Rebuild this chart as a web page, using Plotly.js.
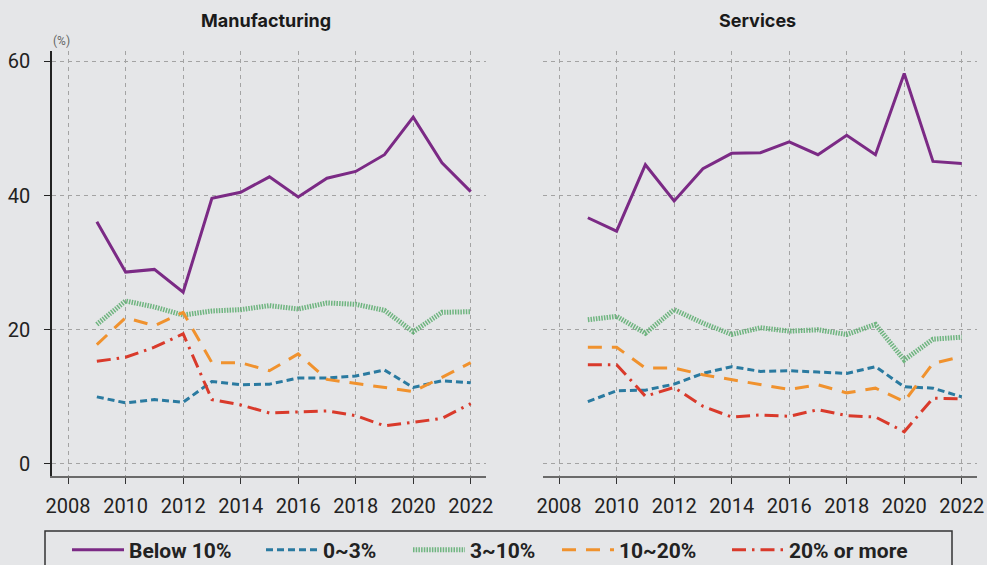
<!DOCTYPE html>
<html>
<head>
<meta charset="utf-8">
<script src="https://cdn.plot.ly/plotly-3.0.1.min.js"></script>
<style>
html,body{margin:0;padding:0;background:#e5e6e8;}
#chart{width:987px;height:565px;}
</style>
</head>
<body>
<div id="chart"></div>
<script>
// ---- data ----
const years = [2009, 2010, 2011, 2012, 2013, 2014, 2015, 2016, 2017, 2018, 2019, 2020, 2021, 2022];
const seriesNames = ["Below 10%", "0~3%", "3~10%", "10~20%", "20% or more"];
const panelTitles = ["Manufacturing", "Services"];
const xTickVals = [2008, 2010, 2012, 2014, 2016, 2018, 2020, 2022];
const yTickVals = [0, 20, 40, 60];

const mfgBelow10 = [36.1, 28.6, 29.0, 25.6, 39.6, 40.5, 42.8, 39.8, 42.6, 43.6, 46.1, 51.7, 44.9, 40.6];
const mfg0to3    = [10.0, 9.1, 9.6, 9.2, 12.3, 11.8, 11.9, 12.8, 12.8, 13.1, 14.0, 11.4, 12.4, 12.1];
const mfg3to10   = [20.8, 24.3, 23.4, 22.2, 22.8, 23.0, 23.6, 23.1, 24.0, 23.8, 22.9, 19.7, 22.6, 22.7];
const mfg10to20  = [17.8, 21.8, 20.6, 22.6, 15.1, 15.1, 13.9, 16.4, 12.6, 12.0, 11.4, 10.8, 12.9, 15.1];
const mfg20plus  = [15.3, 15.9, 17.4, 19.4, 9.6, 8.8, 7.6, 7.7, 7.9, 7.2, 5.7, 6.2, 6.8, 9.0];

const svcBelow10 = [36.7, 34.7, 44.6, 39.2, 44.0, 46.3, 46.4, 48.0, 46.1, 49.0, 46.1, 58.2, 45.1, 44.8];
const svc0to3    = [9.3, 10.9, 11.0, 11.9, 13.5, 14.5, 13.8, 13.9, 13.7, 13.5, 14.5, 11.5, 11.3, 10.0];
const svc3to10   = [21.5, 22.0, 19.5, 23.0, 21.0, 19.3, 20.3, 19.8, 20.0, 19.3, 20.8, 15.5, 18.6, 18.9];
const svc10to20  = [17.4, 17.4, 14.3, 14.3, 13.3, 12.6, 11.8, 11.1, 11.8, 10.6, 11.3, 9.3, 15.0, 16.0];
const svc20plus  = [14.8, 14.8, 10.1, 11.4, 8.6, 7.0, 7.3, 7.1, 8.1, 7.2, 7.0, 4.8, 9.8, 9.7];

// ---- styles ----
const W = 987, H = 565;
const styles = [
  {color: "#7b2a85", width: 3, dash: "solid"},
  {color: "#2a7aa0", width: 3, dash: "7px,4px"},
  {color: "#5bab6d", width: 5, dash: "1.5px,1.2px"},
  {color: "#f0922e", width: 3, dash: "14px,10px"},
  {color: "#d93a2b", width: 3, dash: "14px,6px,2.5px,6px"}
];
const legendLineStart = [75, 269, 416, 565, 735];
const legendIds = ["legend", "legend2", "legend3", "legend4", "legend5"];

const mfg = [mfgBelow10, mfg0to3, mfg3to10, mfg10to20, mfg20plus];
const svc = [svcBelow10, svc0to3, svc3to10, svc10to20, svc20plus];

const traces = [];
mfg.forEach((vals, i) => {
  traces.push({
    x: years, y: vals, type: "scatter", mode: "lines", name: seriesNames[i],
    xaxis: "x", yaxis: "y", line: styles[i], legend: legendIds[i], showlegend: true,
    opacity: i === 2 ? 0.85 : 1
  });
});
svc.forEach((vals, i) => {
  traces.push({
    x: years, y: vals, type: "scatter", mode: "lines", name: seriesNames[i],
    xaxis: "x2", yaxis: "y2", line: styles[i], showlegend: false,
    opacity: i === 2 ? 0.85 : 1
  });
});

const FONT = "Roboto, 'Noto Sans', sans-serif";
const TFONT = "Inter, Roboto, sans-serif";
const px2x = p => p / W;
const px2y = p => 1 - p / H;

const xBase = {
  range: [2007.43, 2022.52], tickvals: xTickVals, ticktext: xTickVals.map(String),
  showgrid: true, gridcolor: "#a3a3a3", griddash: "4px,4px", gridwidth: 1,
  showline: true, linecolor: "#6a6a6a", linewidth: 2,
  ticks: "outside", ticklen: 6, tickcolor: "#333", tickwidth: 1,
  tickfont: {family: FONT, size: 20, color: "#222"},
  ticklabelstandoff: 5, zeroline: false, fixedrange: true
};
const yBase = {
  range: [-1.75, 61.6], tickvals: yTickVals,
  showgrid: true, gridcolor: "#a3a3a3", griddash: "4px,4px", gridwidth: 1,
  zeroline: false, fixedrange: true,
  tickfont: {family: FONT, size: 20, color: "#222"}
};

const legendCommon = {
  orientation: "h", yanchor: "middle", xanchor: "left",
  xref: "container", yref: "container",
  bgcolor: "rgba(0,0,0,0)", borderwidth: 0,
  font: {family: FONT, size: 21, color: "#222", weight: "bold"},
  itemwidth: 52
};

const layout = {
  width: W, height: H,
  paper_bgcolor: "#e5e6e8", plot_bgcolor: "#e5e6e8",
  margin: {l: 0, r: 0, t: 0, b: 0, autoexpand: false},
  font: {family: FONT},
  xaxis: Object.assign({}, xBase, {domain: [px2x(51.7), px2x(485.7)], anchor: "y"}),
  yaxis: Object.assign({}, yBase, {
    domain: [px2y(475.7), px2y(50.7)], anchor: "x",
    showline: true, linecolor: "#222", linewidth: 1.5,
    ticks: "outside", ticklen: 6, tickcolor: "#222", ticklabelstandoff: 10
  }),
  xaxis2: Object.assign({}, xBase, {domain: [px2x(542.7), px2x(976.7)], anchor: "y2"}),
  yaxis2: Object.assign({}, yBase, {
    domain: [px2y(475.7), px2y(50.7)], anchor: "x2",
    showline: false, showticklabels: false, ticks: ""
  }),
  annotations: [
    {text: panelTitles[0], xref: "paper", yref: "paper", x: px2x(266), y: px2y(20),
     xanchor: "center", yanchor: "middle",
     showarrow: false, font: {family: TFONT, size: 18, color: "#1a1a1a", weight: "bold"}},
    {text: panelTitles[1], xref: "paper", yref: "paper", x: px2x(757), y: px2y(20),
     xanchor: "center", yanchor: "middle",
     showarrow: false, font: {family: TFONT, size: 18, color: "#1a1a1a", weight: "bold"}},
    {text: "(%)", xref: "paper", yref: "paper", x: px2x(61), y: px2y(41),
     xanchor: "center", yanchor: "middle",
     showarrow: false, font: {family: FONT, size: 12, color: "#666"}}
  ],
  shapes: [
    {type: "rect", xref: "paper", yref: "paper", x0: px2x(45), x1: px2x(952),
     y0: px2y(570), y1: px2y(531), line: {color: "#333", width: 1.5}, fillcolor: "rgba(0,0,0,0)"}
  ]
};
legendIds.forEach((id, i) => {
  layout[id] = Object.assign({}, legendCommon, {x: px2x(legendLineStart[i] - 8), y: px2y(550)});
});

Plotly.newPlot("chart", traces, layout, {displayModeBar: false, staticPlot: true});
</script>
</body>
</html>
